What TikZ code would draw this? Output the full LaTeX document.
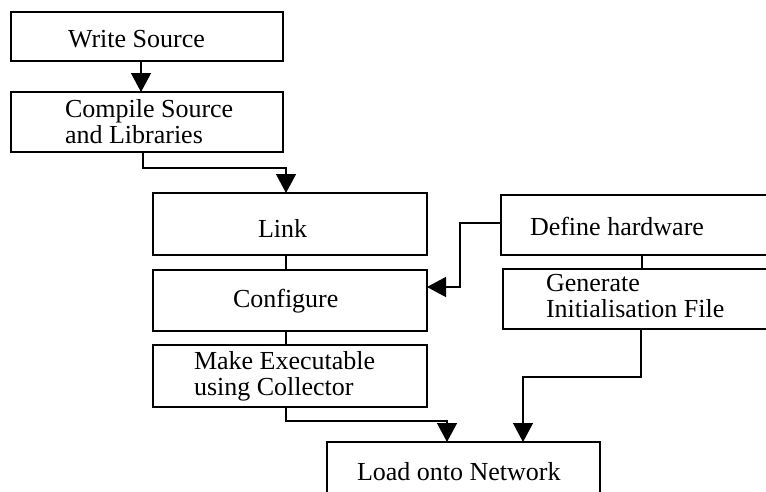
\documentclass[tikz,border=0pt]{standalone}
\usepackage{fontspec}
\setmainfont{Liberation Serif}
\usetikzlibrary{arrows.meta}

\tikzset{
  box/.style={draw, line width=1.3pt, rectangle, anchor=north west, inner sep=0pt, outer sep=0pt},
  lbl/.style={anchor=base west, inner sep=0pt, outer sep=0pt, font=\fontsize{26}{25.5}\selectfont, align=left},
  conn/.style={line width=1.3pt},
  arr/.style={line width=1.3pt, -{Triangle[length=19pt,width=20pt]}}
}

\begin{document}
\begin{tikzpicture}[x=1pt, y=-1pt]
\useasboundingbox (0,0) rectangle (766,491);
\clip (0,0) rectangle (766,491);
\fill[white] (0,0) rectangle (766,491);

% boxes
\node[box, minimum width=272pt, minimum height=49pt] (ws) at (11,12) {};
\node[box, minimum width=272pt, minimum height=60pt] (cs) at (11,92) {};
\node[box, minimum width=274pt, minimum height=62pt] (lk) at (153,193) {};
\node[box, minimum width=274pt, minimum height=61pt] (cf) at (153,270) {};
\node[box, minimum width=274pt, minimum height=62pt] (mk) at (153,345) {};
\node[box, minimum width=320pt, minimum height=60pt] (df) at (501,195) {};
\node[box, minimum width=320pt, minimum height=60pt] (gn) at (503,269) {};
\node[box, minimum width=273pt, minimum height=90pt] (ld) at (327,442) {};

% labels (base anchor of a two-line label is its last line)
\node[lbl] (tws) at (68,47) {Write Source};
\node[lbl] (tcs) at (65,143) {Compile Source\\and Libraries};
\node[lbl] (tlk) at (258,237) {Link};
\node[lbl] (tcf) at (233,307) {Configure};
\node[lbl] (tmk) at (194,395) {Make Executable\\using Collector};
\node[lbl] (tdf) at (530,235) {Define hardware};
\node[lbl] (tgn) at (546,317) {Generate\\Initialisation File};
\node[lbl] (tld) at (357,480) {Load onto Network};

% bend points of the connectors
\coordinate (a1) at (141,0);
\coordinate (k1) at (143,168);
\coordinate (k2) at (286,168);
\coordinate (k3) at (286,421);
\coordinate (k4) at (447,421);
\coordinate (k5) at (641,377);
\coordinate (k6) at (523,377);
\coordinate (k7) at (460,223);
\coordinate (k8) at (460,287);
\coordinate (k9) at (642,0);

% connectors
\draw[arr] (ws.south -| a1) -- (cs.north -| a1);
\draw[arr] (cs.south -| k1) -- (k1) -- (k2) -- (lk.north -| k2);
\draw[conn] (lk.south -| k2) -- (cf.north -| k2);
\draw[conn] (cf.south -| k2) -- (mk.north -| k2);
\draw[arr] (mk.south -| k3) -- (k3) -- (k4) -- (ld.north -| k4);
\draw[conn] (df.south -| k9) -- (gn.north -| k9);
\draw[arr] (gn.south -| k5) -- (k5) -- (k6) -- (ld.north -| k6);
\draw[arr] (df.west |- k7) -- (k7) -- (k8) -- (cf.east |- k8);
\end{tikzpicture}
\end{document}
